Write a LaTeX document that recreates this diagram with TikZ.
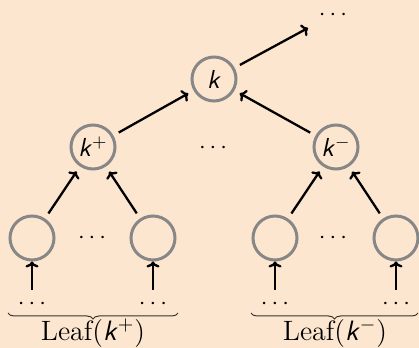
\documentclass[tikz,border=0pt]{standalone}
\usetikzlibrary{decorations.pathreplacing,arrows.meta}
\definecolor{bgpeach}{RGB}{253,230,207}
\definecolor{ringgray}{RGB}{135,135,135}
\newcommand{\kvar}{\textsf{\textit{k}}}
\begin{document}
\begin{tikzpicture}[x=0.5pt,y=-0.5pt,
  treenode/.style={circle, draw=ringgray, line width=1.5pt, minimum size=22pt, inner sep=0pt, font=\fontsize{13}{15}\selectfont},
  dotsnode/.style={inner sep=0pt, font=\fontsize{13}{15}\selectfont},
  arr/.style={-{To[length=3pt,width=6.5pt]}, line width=1.15pt, shorten >=3pt, shorten <=3pt},
  brc/.style={decorate, decoration={brace, mirror, amplitude=3pt}, line width=0.5pt, black!80},
  leaflabel/.style={inner sep=0pt, font=\fontsize{14}{16}\selectfont}]
\fill[bgpeach] (0,0) rectangle (419,348);
\useasboundingbox (0,0) rectangle (419,348);

\node[treenode] (k) at (214,79) {\kvar};
\node[treenode] (kp) at (93,147) {\kvar$^{+}$};
\node[treenode] (km) at (336,147) {\kvar$^{-}$};
\node[treenode] (l1) at (32,238) {};
\node[treenode] (l2) at (153,238) {};
\node[treenode] (l3) at (275,238) {};
\node[treenode] (l4) at (396,238) {};

\node[dotsnode] (topdots) at (333,15) {$\cdots$};
\node[dotsnode] (middots) at (213,148) {$\cdots$};
\node[dotsnode] (ldots) at (92,238) {$\cdots$};
\node[dotsnode] (rdots) at (333,238) {$\cdots$};
\node[dotsnode] (b1) at (32,304) {$\cdots$};
\node[dotsnode] (b2) at (153,304) {$\cdots$};
\node[dotsnode] (b3) at (275,304) {$\cdots$};
\node[dotsnode] (b4) at (396,304) {$\cdots$};

\coordinate (topend) at (308,28);
\coordinate (s1) at (32,290);
\coordinate (s2) at (153,290);
\coordinate (s3) at (275,290);
\coordinate (s4) at (396,290);

\draw[arr, shorten >=0pt] (k) -- (topend);
\draw[arr] (kp) -- (k);
\draw[arr] (km) -- (k);
\draw[arr] (l1) -- (kp);
\draw[arr] (l2) -- (kp);
\draw[arr] (l3) -- (km);
\draw[arr] (l4) -- (km);
\draw[arr, shorten <=0pt, shorten >=0pt] (s1) -- (l1);
\draw[arr, shorten <=0pt, shorten >=0pt] (s2) -- (l2);
\draw[arr, shorten <=0pt, shorten >=0pt] (s3) -- (l3);
\draw[arr, shorten <=0pt, shorten >=0pt] (s4) -- (l4);

\draw[brc] (8,313) -- (178,313);
\draw[brc] (251,313) -- (418,313);
\node[leaflabel] (leafp) at (93,333) {Leaf(\kvar$^{+}$)};
\node[leaflabel] (leafm) at (335,333) {Leaf(\kvar$^{-}$)};
\end{tikzpicture}
\end{document}
